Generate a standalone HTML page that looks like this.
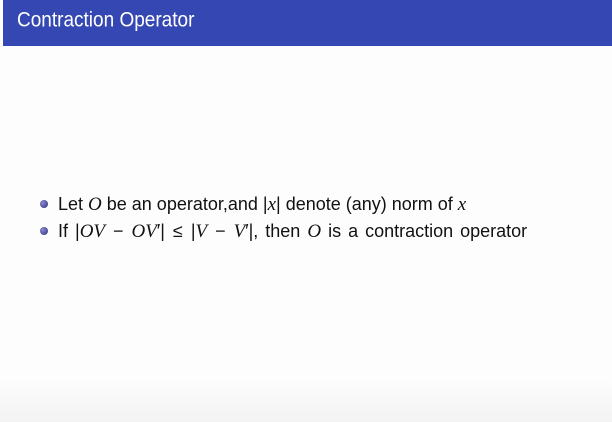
<!DOCTYPE html>
<html><head><meta charset="utf-8"><style>
html,body{margin:0;padding:0}
body{width:612px;height:422px;overflow:hidden;background:linear-gradient(#fdfdfd 0,#fdfdfd 380px,#f3f3f3 422px);position:relative;font-family:"Liberation Sans",sans-serif;}
.hdr{position:absolute;left:3px;top:0;width:609px;height:46px;background:#3447b3;}
.hdr span{position:absolute;left:14px;top:10px;color:#fff;font-size:19px;white-space:nowrap;transform:scaleY(1.12);transform-origin:0 50%;}
.b{position:absolute;left:40px;width:8px;height:8px;border-radius:50%;background:radial-gradient(circle at 35% 35%,#8a8ad0,#2a2a7a);}
.t{position:absolute;left:58px;font-size:18px;color:#111;white-space:nowrap;}
i{font-family:"Liberation Serif",serif;font-size:19px}
.o{margin:0 8px}
</style></head><body>
<div class="hdr"><span>Contraction Operator</span></div>
<div class="b" style="top:200px"></div>
<div class="t" style="top:194px">Let <i>O</i> be an operator,and |<i>x</i>| denote (any) norm of <i>x</i></div>
<div class="b" style="top:227px"></div>
<div class="t" style="top:221px;word-spacing:2px">If |<i>OV</i><span class="o">−</span><i>OV</i>′|<span class="o">≤</span>|<i>V</i><span class="o">−</span><i>V</i>′|, then <i>O</i> is a contraction operator</div>
</body></html>
